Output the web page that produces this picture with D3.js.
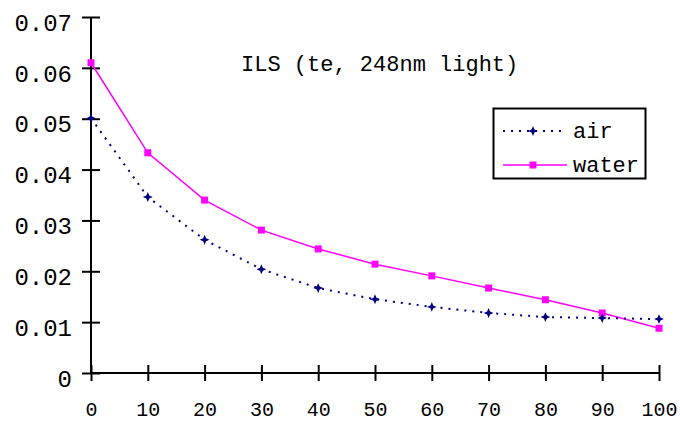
<!DOCTYPE html>
<html>
<head>
<meta charset="utf-8">
<script src="https://cdn.jsdelivr.net/npm/d3@7"></script>
<style>
  html, body { margin: 0; padding: 0; background: #fff; }
  svg { display: block; }
  text { font-family: "Liberation Mono", "DejaVu Sans Mono", monospace; fill: #000; }
</style>
</head>
<body>
<svg id="chart" width="680" height="422"></svg>
<script>
// Distance values along the x axis
const distance = [0, 10, 20, 30, 40, 50, 60, 70, 80, 90, 100];
// ILS measured in air and in water
const airValues   = [0.0501, 0.0346, 0.0262, 0.0204, 0.0167, 0.0145, 0.0130, 0.0118, 0.0110, 0.0108, 0.0106];
const waterValues = [0.0610, 0.0433, 0.0340, 0.0281, 0.0244, 0.0214, 0.0191, 0.0167, 0.0144, 0.0118, 0.0088];
const xTicks = [0, 10, 20, 30, 40, 50, 60, 70, 80, 90, 100];
const yTicks = [0, 0.01, 0.02, 0.03, 0.04, 0.05, 0.06, 0.07];
const seriesNames = ["air", "water"];
const title = "ILS (te, 248nm light)";

const svg = d3.select("#chart");
const x = d3.scaleLinear().domain([0, 100]).range([91, 659]);
const y = d3.scaleLinear().domain([0, 0.07]).range([373, 17]);

const navy = "#000080", magenta = "#ff00ff";

// Four-pointed star marker used for the air series
const star4 = {
  draw(ctx, size) {
    const r = Math.sqrt(size) * 0.9, i = r * 0.3;
    ctx.moveTo(0, -r);
    ctx.lineTo(i, -i); ctx.lineTo(r, 0); ctx.lineTo(i, i);
    ctx.lineTo(0, r); ctx.lineTo(-i, i); ctx.lineTo(-r, 0); ctx.lineTo(-i, -i);
    ctx.closePath();
  }
};

// Axes: crossing tick marks on both sides of the axis line
const yAxis = d3.axisLeft(y).tickValues(yTicks).tickSize(9).tickFormat(d => d === 0 ? "0" : d3.format(".2f")(d)).tickPadding(0);
const gy = svg.append("g").attr("transform", `translate(${x(0)},0)`).call(yAxis);
gy.select(".domain").remove();
gy.selectAll(".tick line").attr("x1", -9).attr("x2", 9).attr("stroke", "#000").attr("stroke-width", 2);
gy.selectAll(".tick text").attr("x", -19).attr("dy", "0.55em").style("font-size", "24px");

const xAxis = d3.axisBottom(x).tickValues(xTicks).tickSize(8).tickPadding(0);
const gx = svg.append("g").attr("transform", `translate(0,${y(0)})`).call(xAxis);
gx.select(".domain").remove();
gx.selectAll(".tick line").attr("y1", -8).attr("y2", 8).attr("stroke", "#000").attr("stroke-width", 2);
gx.selectAll(".tick text").attr("y", 43).attr("dy", 0).style("font-size", "20px");

svg.append("line").attr("x1", x(0)).attr("x2", x(0)).attr("y1", y(0.07)).attr("y2", y(0))
  .attr("stroke", "#000").attr("stroke-width", 2);
svg.append("line").attr("x1", x(0)).attr("x2", x(100)).attr("y1", y(0)).attr("y2", y(0))
  .attr("stroke", "#000").attr("stroke-width", 2);
svg.selectAll("text").attr("font-family", null).style("font-family", '"Liberation Mono", monospace');

// Series lines
const line = d3.line().x((d, i) => x(distance[i])).y(d => y(d));
svg.append("path").datum(waterValues).attr("d", line)
  .attr("fill", "none").attr("stroke", magenta).attr("stroke-width", 1.5);
svg.append("path").datum(airValues).attr("d", line)
  .attr("fill", "none").attr("stroke", navy).attr("stroke-width", 2).attr("stroke-dasharray", "2,6");

// Markers
svg.selectAll(".wm").data(waterValues).join("rect")
  .attr("x", (d, i) => x(distance[i]) - 3.5).attr("y", d => y(d) - 3.5)
  .attr("width", 7).attr("height", 7).attr("fill", magenta);
const starPath = d3.symbol().type(star4).size(30);
svg.selectAll(".am").data(airValues).join("path")
  .attr("d", starPath).attr("fill", navy)
  .attr("transform", (d, i) => `translate(${x(distance[i])},${y(d)})`);

// Title
svg.append("text").attr("x", 241).attr("y", 71).style("font-size", "22px").text(title);

// Legend
const lg = svg.append("g");
lg.append("rect").attr("x", 493.5).attr("y", 108.5).attr("width", 152).attr("height", 70)
  .attr("fill", "#fff").attr("stroke", "#000").attr("stroke-width", 2);
const rows = [
  { name: seriesNames[0], color: navy, dash: "2,6", w: 2, yy: 131 },
  { name: seriesNames[1], color: magenta, dash: null, w: 1.5, yy: 165 }
];
rows.forEach((r, k) => {
  lg.append("line").attr("x1", 503).attr("x2", 567).attr("y1", r.yy).attr("y2", r.yy)
    .attr("stroke", r.color).attr("stroke-width", r.w).attr("stroke-dasharray", r.dash);
  if (k === 0) {
    lg.append("path").attr("d", starPath).attr("fill", navy).attr("transform", `translate(533,${r.yy})`);
  } else {
    lg.append("rect").attr("x", 529.5).attr("y", r.yy - 3.5).attr("width", 7).attr("height", 7).attr("fill", magenta);
  }
  lg.append("text").attr("x", 573).attr("y", r.yy + 7).style("font-size", "22px").text(r.name);
});
</script>
</body>
</html>
